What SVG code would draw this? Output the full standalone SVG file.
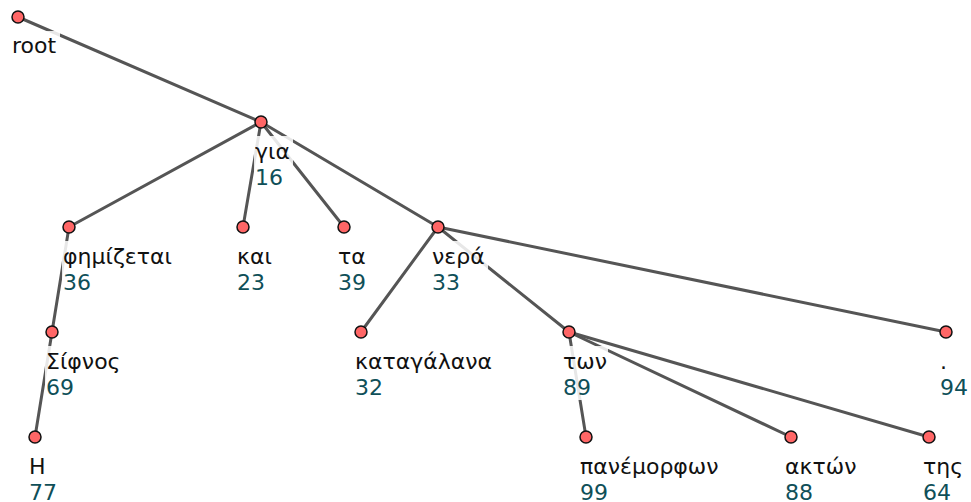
<svg xmlns="http://www.w3.org/2000/svg" width="971" height="502" viewBox="0 0 971 502">
  <style>
    .edge { stroke: #555555; stroke-width: 3; fill: none; stroke-linecap: round; }
    .bg { fill: #ffffff; fill-opacity: 0.86; }
    .dot { fill: #ff6666; stroke: #111111; stroke-width: 1.5; }
    .word { font-family: "DejaVu Sans", sans-serif; font-size: 22px; fill: #111111; }
    .idx { font-family: "DejaVu Sans", sans-serif; font-size: 22px; fill: #0f4f58; }
  </style>
  <rect width="971" height="502" fill="#ffffff"/>

  <!-- dependency arcs: head -> dependent -->
  <g id="connectors">
    <line class="edge" x1="18" y1="17" x2="261" y2="122"/>
    <line class="edge" x1="261" y1="122" x2="69" y2="227"/>
    <line class="edge" x1="261" y1="122" x2="243" y2="227"/>
    <line class="edge" x1="261" y1="122" x2="344" y2="227"/>
    <line class="edge" x1="261" y1="122" x2="438" y2="227"/>
    <line class="edge" x1="69" y1="227" x2="52" y2="332"/>
    <line class="edge" x1="52" y1="332" x2="35" y2="437"/>
    <line class="edge" x1="438" y1="227" x2="361" y2="332"/>
    <line class="edge" x1="438" y1="227" x2="569" y2="332"/>
    <line class="edge" x1="438" y1="227" x2="946" y2="332"/>
    <line class="edge" x1="569" y1="332" x2="586" y2="437"/>
    <line class="edge" x1="569" y1="332" x2="791" y2="437"/>
    <line class="edge" x1="569" y1="332" x2="929" y2="437"/>
  </g>

  <g id="n-root">
    <rect class="bg" x="11" y="31" width="49" height="26"/>
    <text class="word" x="12" y="53">root</text>
    <circle class="dot" cx="18" cy="17" r="6"/>
  </g>
  <g id="n16">
    <rect class="bg" x="254" y="136" width="39" height="54"/>
    <text class="word" x="255" y="159">για</text>
    <text class="idx" x="255" y="185">16</text>
    <circle class="dot" cx="261" cy="122" r="6"/>
  </g>
  <g id="n36">
    <rect class="bg" x="62" y="241" width="113" height="54"/>
    <text class="word" x="63" y="264">φημίζεται</text>
    <text class="idx" x="63" y="290">36</text>
    <circle class="dot" cx="69" cy="227" r="6"/>
  </g>
  <g id="n23">
    <rect class="bg" x="236" y="241" width="39" height="54"/>
    <text class="word" x="237" y="264">και</text>
    <text class="idx" x="237" y="290">23</text>
    <circle class="dot" cx="243" cy="227" r="6"/>
  </g>
  <g id="n39">
    <rect class="bg" x="337" y="241" width="32" height="54"/>
    <text class="word" x="338" y="264">τα</text>
    <text class="idx" x="338" y="290">39</text>
    <circle class="dot" cx="344" cy="227" r="6"/>
  </g>
  <g id="n33">
    <rect class="bg" x="431" y="241" width="57" height="54"/>
    <text class="word" x="432" y="264">νερά</text>
    <text class="idx" x="432" y="290">33</text>
    <circle class="dot" cx="438" cy="227" r="6"/>
  </g>
  <g id="n69">
    <rect class="bg" x="45" y="346" width="79" height="54"/>
    <text class="word" x="46" y="369">Σίφνος</text>
    <text class="idx" x="46" y="395">69</text>
    <circle class="dot" cx="52" cy="332" r="6"/>
  </g>
  <g id="n32">
    <rect class="bg" x="354" y="346" width="141" height="54"/>
    <text class="word" x="355" y="369">καταγάλανα</text>
    <text class="idx" x="355" y="395">32</text>
    <circle class="dot" cx="361" cy="332" r="6"/>
  </g>
  <g id="n89">
    <rect class="bg" x="562" y="346" width="46" height="54"/>
    <text class="word" x="563" y="369">των</text>
    <text class="idx" x="563" y="395">89</text>
    <circle class="dot" cx="569" cy="332" r="6"/>
  </g>
  <g id="n94">
    <rect class="bg" x="939" y="346" width="32" height="54"/>
    <text class="word" x="940" y="369">.</text>
    <text class="idx" x="940" y="395">94</text>
    <circle class="dot" cx="946" cy="332" r="6"/>
  </g>
  <g id="n77">
    <rect class="bg" x="28" y="451" width="32" height="54"/>
    <text class="word" x="29" y="474">Η</text>
    <text class="idx" x="29" y="500">77</text>
    <circle class="dot" cx="35" cy="437" r="6"/>
  </g>
  <g id="n99">
    <rect class="bg" x="579" y="451" width="146" height="54"/>
    <text class="word" x="580" y="474">πανέμορφων</text>
    <text class="idx" x="580" y="500">99</text>
    <circle class="dot" cx="586" cy="437" r="6"/>
  </g>
  <g id="n88">
    <rect class="bg" x="784" y="451" width="74" height="54"/>
    <text class="word" x="785" y="474">ακτών</text>
    <text class="idx" x="785" y="500">88</text>
    <circle class="dot" cx="791" cy="437" r="6"/>
  </g>
  <g id="n64">
    <rect class="bg" x="922" y="451" width="40" height="54"/>
    <text class="word" x="923" y="474">της</text>
    <text class="idx" x="923" y="500">64</text>
    <circle class="dot" cx="929" cy="437" r="6"/>
  </g>
</svg>
